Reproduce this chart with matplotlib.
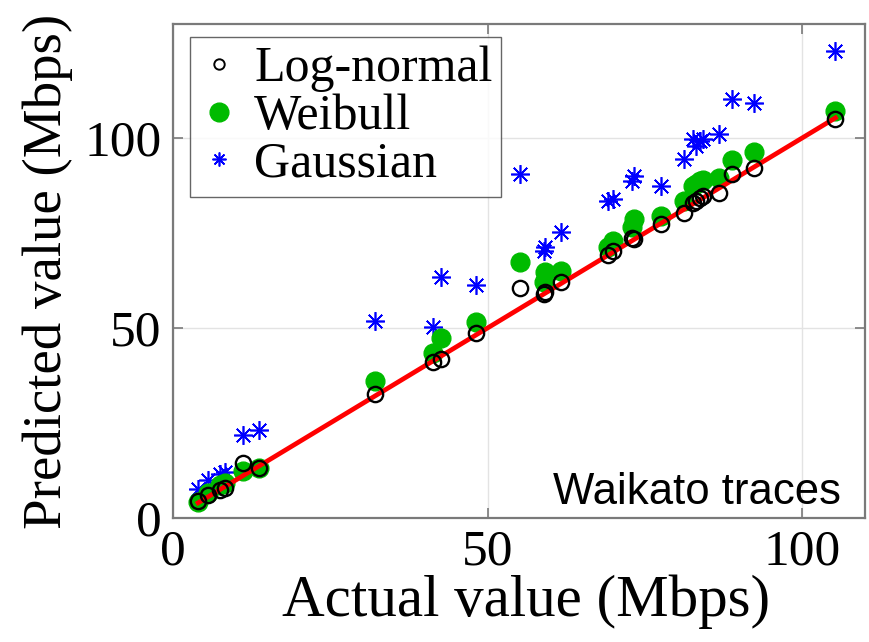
import matplotlib
matplotlib.use("Agg")
import matplotlib.pyplot as plt

# Actual throughput of each trace and the value predicted by each model (Mbps)
actual = [4.0, 5.5, 7.5, 8.3, 11.2, 13.7, 32.1, 41.4, 42.6, 48.2, 55.2, 58.9, 59.1,
          61.7, 69.2, 69.9, 73.0, 73.3, 77.5, 81.3, 82.6, 83.1, 83.7, 84.3, 86.8,
          88.9, 92.3, 105.3]
lognormal = [4.6, 6.1, 7.3, 8.0, 14.5, 13.1, 32.6, 41.1, 41.8, 48.6, 60.6, 58.9, 59.4,
             62.2, 69.3, 70.3, 73.8, 73.4, 77.3, 80.3, 82.8, 83.5, 84.2, 84.8, 85.6,
             90.5, 92.0, 105.0]
weibull = [4.3, 6.6, 8.7, 9.2, 12.3, 13.2, 36.0, 43.3, 47.4, 51.5, 67.3, 62.0, 64.7,
           65.1, 71.2, 73.0, 76.5, 78.7, 79.5, 83.5, 87.5, 88.0, 88.7, 89.0, 89.6,
           94.1, 96.4, 107.1]
gaussian = [7.6, 10.0, 11.7, 12.2, 21.8, 23.1, 51.8, 50.2, 63.3, 61.2, 90.6, 70.3, 71.2,
            75.2, 83.5, 83.9, 88.7, 90.0, 87.4, 94.4, 99.7, 97.9, 99.2, 99.7, 101.0,
            110.2, 109.3, 123.0]

x_ticks = [0, 50, 100]
y_ticks = [0, 50, 100]

serif = ["Liberation Serif", "DejaVu Serif"]
sans = ["Liberation Sans", "DejaVu Sans"]

fig = plt.figure(figsize=(8.69, 6.42), dpi=100)
ax = fig.add_axes([0.199, 0.1931, 0.7964, 0.7695])

star = (8, 2, 0)  # eight-spoke asterisk
ax.plot(actual, gaussian, linestyle="none", marker=star, markersize=13.5,
        markeredgewidth=1.2, color="#0000ff", zorder=3)
ax.plot(actual, weibull, linestyle="none", marker="o", markersize=13.5,
        markerfacecolor="#00bb00", markeredgecolor="#00bb00", zorder=4)
lo, hi = min(actual), max(actual)
ax.plot([lo, hi], [lo, hi], color="#ff0000", linewidth=3.4, zorder=5)
ax.plot(actual, lognormal, linestyle="none", marker="o", markersize=11,
        markerfacecolor="none", markeredgecolor="black", markeredgewidth=1.7,
        zorder=6)

ax.set_xlim(0, 110)
ax.set_ylim(0, 130)
ax.set_xticks(x_ticks)
ax.set_yticks(y_ticks)
ax.grid(True, color="#e3e3e3", linewidth=1.0)
ax.set_axisbelow(True)
ax.tick_params(direction="in", length=7, width=1.2, top=True, right=True,
               colors="#7a7a7a", labelcolor="black", labelsize=37, pad=8)
for lab in ax.get_xticklabels() + ax.get_yticklabels():
    lab.set_family(serif)
for sp in ax.spines.values():
    sp.set_color("#7a7a7a")
    sp.set_linewidth(1.6)

xl = ax.set_xlabel("Actual value (Mbps)", family=serif, fontsize=42.5, labelpad=0)
ax.xaxis.set_label_coords(0.51, -0.115)
ax.set_ylabel("Predicted value (Mbps)", family=serif, fontsize=39.5, labelpad=8)

ax.text(0.965, 0.028, "Waikato traces", transform=ax.transAxes, ha="right",
        va="baseline", family=sans, fontsize=31.5)

leg_l = ax.plot([], [], linestyle="none", marker="o", markersize=7.5,
                markerfacecolor="none", markeredgecolor="black", markeredgewidth=1.4)[0]
leg_w = ax.plot([], [], linestyle="none", marker="o", markersize=13.5,
                markerfacecolor="#00bb00", markeredgecolor="#00bb00")[0]
leg_g = ax.plot([], [], linestyle="none", marker=star, markersize=10,
                markeredgewidth=1.2, color="#0000ff")[0]
leg = fig.legend([leg_l, leg_w, leg_g], ["Log-normal", "Weibull", "Gaussian"],
                 loc="upper left", bbox_to_anchor=(190 / 869, 1 - 37 / 642),
                 borderaxespad=0, prop={"family": serif, "size": 36},
                 frameon=True, fancybox=False, edgecolor="#404040",
                 handlelength=0.8, handletextpad=0.3, labelspacing=0.02,
                 borderpad=0.18)
leg.get_frame().set_linewidth(1.0)

fig.savefig("out.png", dpi=100)
